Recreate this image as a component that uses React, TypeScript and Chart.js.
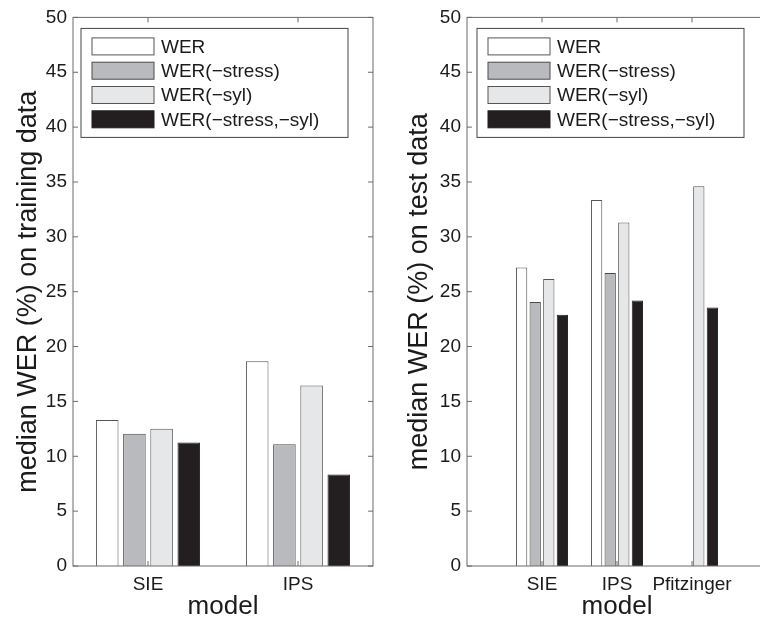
import React, { useEffect, useRef } from 'react';
import { Chart, registerables } from 'chart.js';

Chart.register(...registerables);

// ---------- data ----------
const seriesLabels = ['WER', 'WER(−stress)', 'WER(−syl)', 'WER(−stress,−syl)'];

const trainCategories = ['SIE', 'IPS'];
const trainWER = [13.3, 18.65];
const trainStress = [12.05, 11.1];
const trainSyl = [12.5, 16.45];
const trainBoth = [11.25, 8.35];

const testCategories = ['', 'SIE', 'IPS', 'Pfitzinger', ''];
const testWER = [null, 27.2, 33.35, null, null];
const testStress = [null, 24.05, 26.7, null, null];
const testSyl = [null, 26.15, 31.3, 34.6, null];
const testBoth = [null, 22.9, 24.2, 23.55, null];

const yMin = 0;
const yMax = 50;
const yStep = 5;

const xTitle = 'model';
const trainYTitle = 'median WER (%) on training data';
const testYTitle = 'median WER (%) on test data';

// ---------- styles ----------
const FONT = '"Liberation Sans", Arial, Helvetica, sans-serif';
const TEXT = '#1c1a1b';
const FILLS = ['#ffffff', '#b9babd', '#e6e7e8', '#231f20'];
const EDGES = ['#555555', '#4a4a4a', '#555555', '#231f20'];
const FRAME = '#6a6a6a';

const framePlugin = {
  id: 'frameLegend',
  afterDatasetsDraw(chart: any, _args: any, opts: any) {
    const { ctx, chartArea: a, scales } = chart;
    ctx.save();
    ctx.strokeStyle = FRAME;
    ctx.lineWidth = 1;
    ctx.strokeRect(a.left, a.top, a.right - a.left, a.bottom - a.top);
    const tl = 5;
    const line = (x1: number, y1: number, x2: number, y2: number) => {
      ctx.beginPath();
      ctx.moveTo(x1, y1);
      ctx.lineTo(x2, y2);
      ctx.stroke();
    };
    const ys = scales.y;
    ys.ticks.forEach((_t: any, i: number) => {
      const py = ys.getPixelForTick(i);
      line(a.left, py, a.left + tl, py);
      line(a.right, py, a.right - tl, py);
    });
    const xs = scales.x;
    xs.ticks.forEach((t: any, i: number) => {
      const lbl = chart.data.labels[t.value];
      if (!lbl) return;
      const px = xs.getPixelForTick(i);
      line(px, a.bottom, px, a.bottom - tl);
      line(px, a.top, px, a.top + tl);
    });

    // legend
    const bx = a.left + opts.dx;
    const by = a.top + opts.dy;
    const bw = 267;
    const bh = 109;
    ctx.fillStyle = '#ffffff';
    ctx.fillRect(bx, by, bw, bh);
    ctx.strokeStyle = '#444444';
    ctx.strokeRect(bx, by, bw, bh);
    ctx.font = `19px ${FONT}`;
    ctx.textBaseline = 'middle';
    ctx.textAlign = 'left';
    chart.data.datasets.forEach((ds: any, i: number) => {
      const cy = by + 18 + i * 24.3;
      ctx.fillStyle = ds.backgroundColor;
      ctx.fillRect(bx + 11, cy - 8.5, 62, 17);
      ctx.strokeStyle = ds.borderColor;
      ctx.strokeRect(bx + 11, cy - 8.5, 62, 17);
      ctx.fillStyle = TEXT;
      ctx.fillText(ds.label, bx + 80, cy + 1);
    });
    ctx.restore();
  },
};

function buildConfig(p: {
  labels: string[];
  series: (number | null)[][];
  yTitle: string;
  yWidth: number;
  yTitlePad: number;
  padRight: number;
  offset: boolean;
  legendDx: number;
}): any {
  return {
    type: 'bar',
    data: {
      labels: p.labels,
      datasets: p.series.map((d, i) => ({
        label: seriesLabels[i],
        data: d,
        backgroundColor: FILLS[i],
        borderColor: EDGES[i],
        borderWidth: 1,
        categoryPercentage: 0.725,
        barPercentage: 0.83,
      })),
    },
    options: {
      responsive: false,
      animation: false,
      layout: { padding: { top: 16, right: p.padRight, bottom: 0, left: 0 } },
      plugins: {
        legend: { display: false },
        tooltip: { enabled: false },
        frameLegend: { dx: p.legendDx, dy: 11 },
      },
      scales: {
        x: {
          offset: p.offset,
          grid: { display: false, drawTicks: false },
          border: { display: false },
          ticks: {
            autoSkip: false,
            maxRotation: 0,
            minRotation: 0,
            padding: 7,
            color: TEXT,
            font: { family: FONT, size: 19 },
          },
          title: {
            display: true,
            text: xTitle,
            color: TEXT,
            font: { family: FONT, size: 26 },
            padding: { top: 0, bottom: -2 },
          },
          afterFit: (s: any) => {
            s.height = 54;
          },
        },
        y: {
          min: yMin,
          max: yMax,
          grid: { display: false, drawTicks: false },
          border: { display: false },
          ticks: {
            stepSize: yStep,
            padding: 6,
            color: TEXT,
            font: { family: FONT, size: 19 },
          },
          title: {
            display: true,
            text: p.yTitle,
            color: TEXT,
            font: { family: FONT, size: 27 },
            padding: { top: p.yTitlePad, bottom: 0 },
          },
          afterFit: (s: any) => {
            s.width = p.yWidth;
          },
        },
      },
    },
    plugins: [framePlugin],
  };
}

export default function App() {
  const leftRef = useRef<HTMLCanvasElement>(null);
  const rightRef = useRef<HTMLCanvasElement>(null);

  useEffect(() => {
    const c1 = new Chart(
      leftRef.current as HTMLCanvasElement,
      buildConfig({
        labels: trainCategories,
        series: [trainWER, trainStress, trainSyl, trainBoth],
        yTitle: trainYTitle,
        yWidth: 73,
        yTitlePad: 12,
        padRight: 7,
        offset: true,
        legendDx: 8,
      })
    );
    const c2 = new Chart(
      rightRef.current as HTMLCanvasElement,
      buildConfig({
        labels: testCategories,
        series: [testWER, testStress, testSyl, testBoth],
        yTitle: testYTitle,
        yWidth: 87,
        yTitlePad: 23,
        padRight: 13,
        offset: false,
        legendDx: 10,
      })
    );
    return () => {
      c1.destroy();
      c2.destroy();
    };
  }, []);

  return (
    <div
      style={{
        position: 'fixed',
        left: 0,
        top: 0,
        width: 760,
        height: 620,
        overflow: 'hidden',
        background: '#ffffff',
      }}
    >
      <canvas
        ref={leftRef}
        width={380}
        height={620}
        style={{ position: 'absolute', left: 0, top: 0, width: 380, height: 620 }}
      />
      <canvas
        ref={rightRef}
        width={400}
        height={620}
        style={{ position: 'absolute', left: 380, top: 0, width: 400, height: 620 }}
      />
    </div>
  );
}
